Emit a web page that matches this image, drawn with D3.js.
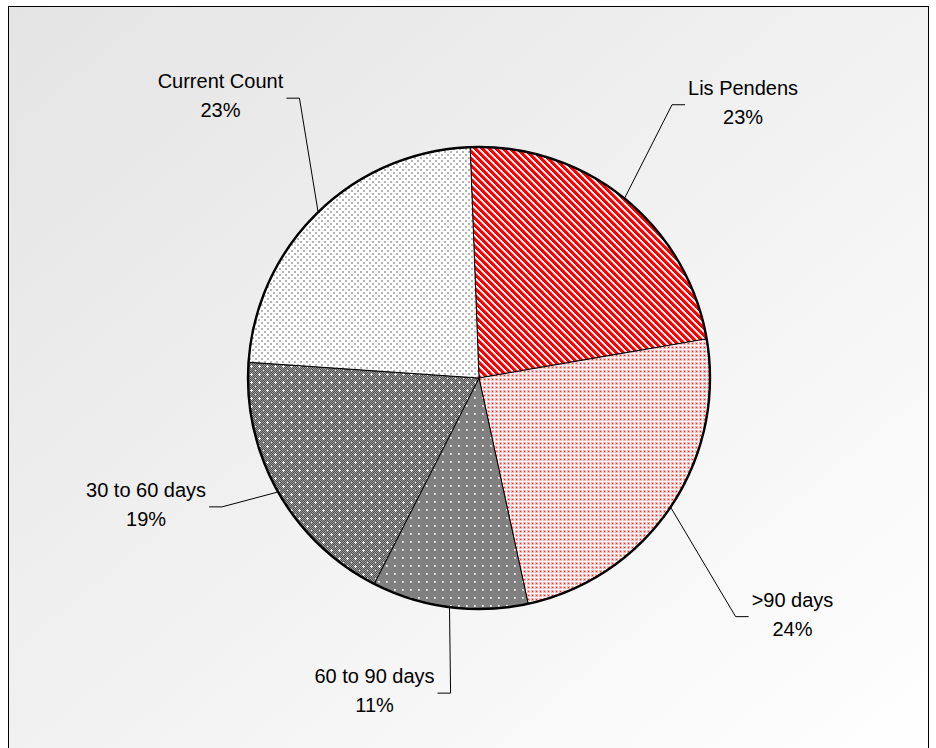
<!DOCTYPE html>
<html>
<head>
<meta charset="utf-8">
<script src="https://cdn.jsdelivr.net/npm/d3@7/dist/d3.min.js"></script>
<style>
  html, body { margin: 0; padding: 0; background: #ffffff; }
  svg { display: block; }
  text { font-family: "Liberation Sans", Arial, sans-serif; }
</style>
</head>
<body>
<script>
// ---- data ----
const categories = ["Lis Pendens", ">90 days", "60 to 90 days", "30 to 60 days", "Current Count"];
const values = [22.9, 24.3, 10.9, 18.6, 23.3];
const patternIds = ["pLis", "p90", "p6090", "p3060", "pCur"];

// ---- layout (not data) ----
const W = 936, H = 748;
const cx = 479, cy = 378, R = 231;
const startDeg = -2.2;
// label placement: [angle offset (deg) from slice middle, distance from centre]
const labelPlace = [[5.0, 380], [3.3, 394], [11, 332], [8.4, 357], [1.4, 381]];
const fontSize = 20, lineGap = 29;

const svg = d3.select("body").append("svg").attr("width", W).attr("height", H);
const defs = svg.append("defs");

// background gradient
const grad = defs.append("linearGradient").attr("id", "bg")
  .attr("x1", "0").attr("y1", "0").attr("x2", "1").attr("y2", "1");
grad.append("stop").attr("offset", "0%").attr("stop-color", "#e4e4e4");
grad.append("stop").attr("offset", "100%").attr("stop-color", "#ffffff");

// patterns
function pat(id, w, h) {
  return defs.append("pattern").attr("id", id).attr("patternUnits", "userSpaceOnUse")
    .attr("width", w).attr("height", h).attr("shape-rendering", "crispEdges");
}
function px(p, x, y, w, h, c) {
  p.append("rect").attr("x", x).attr("y", y).attr("width", w).attr("height", h)
    .attr("fill", c).attr("shape-rendering", "crispEdges");
}
// Lis Pendens: red diagonal stripes (pixel exact)
{
  const n = 7;
  const p = pat("pLis", n, n);
  px(p, 0, 0, n, n, "#ffffff");
  for (let y = 0; y < n; y++) {
    for (let k = 0; k < 4; k++) px(p, (y + k) % n, y, 1, 1, "#ff0000");
    px(p, (y + 4) % n, y, 1, 1, "#ff9a9a");
  }
}
// >90 days: light red dotted grid
{
  const p = pat("p90", 4, 4);
  px(p, 0, 0, 4, 4, "#ffffff");
  px(p, 0, 0, 3, 3, "#ffb0b0");
  px(p, 1, 1, 1, 1, "#ff2020");
}
// 30 to 60: dark checker with white dots
{
  const p = pat("p3060", 8, 8);
  px(p, 0, 0, 8, 8, "#9c9c9c");
  for (let y = 0; y < 8; y++) for (let x = 0; x < 8; x++) {
    if ((x + y) % 2 === 0) px(p, x, y, 1, 1, "#505050");
  }
  px(p, 3, 4, 3, 1, "#ffffff");
  px(p, 4, 3, 1, 3, "#ffffff");
  px(p, 0, 0, 1, 1, "#eeeeee");
}
// 60 to 90: grey with light dots
{
  const p = pat("p6090", 8, 8);
  px(p, 0, 0, 8, 8, "#808080");
  px(p, 3, 3, 2, 2, "#cfcfcf");
  px(p, 3, 3, 1, 1, "#ffffff");
}
// Current count: white with grey dots
{
  const p = pat("pCur", 6, 6);
  px(p, 0, 0, 6, 6, "#ffffff");
  px(p, 1, 1, 2, 2, "#b4b4b4");
  px(p, 4, 4, 2, 2, "#b4b4b4");
}

// background box
svg.append("rect").attr("x", 8.5).attr("y", 6.5).attr("width", 920).attr("height", H + 10)
  .attr("fill", "url(#bg)").attr("stroke", "#000").attr("stroke-width", 1);

// pie
const sum = d3.sum(values);
const a0 = startDeg * Math.PI / 180;
const pie = d3.pie().sort(null).startAngle(a0).endAngle(a0 + 2 * Math.PI);
const arcs = pie(values);
const arc = d3.arc().innerRadius(0).outerRadius(R);
const g = svg.append("g").attr("transform", `translate(${cx},${cy})`);

g.selectAll("path.slice").data(arcs).enter().append("path")
  .attr("class", "slice")
  .attr("d", arc)
  .attr("fill", (d, i) => `url(#${patternIds[i]})`)
  .attr("stroke", "#000").attr("stroke-width", 1).attr("stroke-linejoin", "round");

g.append("circle").attr("r", R).attr("fill", "none").attr("stroke", "#000").attr("stroke-width", 2.4);

// labels
const pct = d3.format(".0%");
arcs.forEach((d, i) => {
  const mid = (d.startAngle + d.endAngle) / 2;
  const la = mid + labelPlace[i][0] * Math.PI / 180;
  const lr = labelPlace[i][1];
  const ax = lr * Math.sin(la), ay = -lr * Math.cos(la);
  const baseline = ay - 10;
  const t = g.append("text").attr("text-anchor", "middle").attr("font-size", fontSize).attr("fill", "#000");
  t.append("tspan").attr("x", ax).attr("y", baseline).text(categories[i]);
  t.append("tspan").attr("x", ax).attr("y", baseline + lineGap).text(pct(Math.round(values[i] / sum * 100) / 100));
  const w = t.node().getBBox().width;
  const right = Math.sin(mid) > 0;
  const ex = right ? ax - w / 2 - 3 : ax + w / 2 + 3;
  const elbowX = right ? ex - 13 : ex + 13;
  const ppx = R * Math.sin(mid), ppy = -R * Math.cos(mid);
  g.append("path").attr("d", `M${ppx},${ppy}L${elbowX},${ay}L${ex},${ay}`)
    .attr("fill", "none").attr("stroke", "#000").attr("stroke-width", 1);
});
</script>
</body>
</html>
